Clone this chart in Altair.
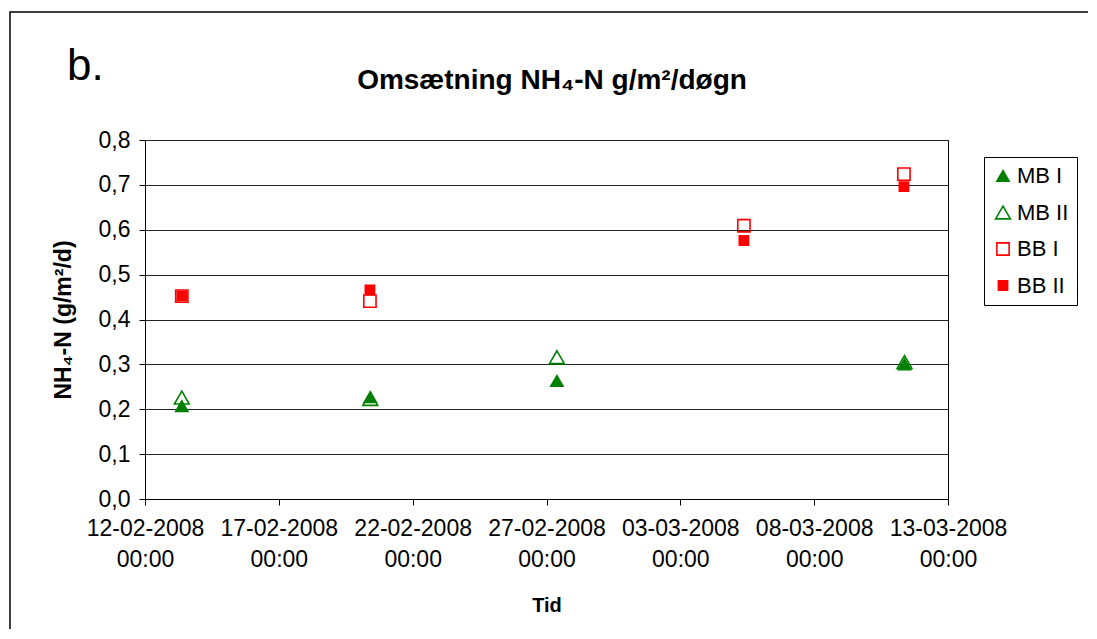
import altair as alt
import pandas as pd

# ---- data ----
series_order = ["MB I", "MB II", "BB I", "BB II"]
mb_dates = ["2008-02-13T09:00:00", "2008-02-20T10:00:00", "2008-02-27T09:20:00", "2008-03-11T09:00:00"]
bb_dates = ["2008-02-13T09:00:00", "2008-02-20T09:40:00", "2008-03-05T09:00:00", "2008-03-11T08:30:00"]
mb1 = [0.207, 0.227, 0.263, 0.300]
mb2 = [0.226, 0.223, 0.316, 0.305]
bb1 = [0.452, 0.441, 0.609, 0.724]
bb2 = [0.452, 0.466, 0.576, 0.696]
y_ticks = [0.0, 0.1, 0.2, 0.3, 0.4, 0.5, 0.6, 0.7, 0.8]
x_tick_days = [(2008, 2, 12), (2008, 2, 17), (2008, 2, 22), (2008, 2, 27),
               (2008, 3, 3), (2008, 3, 8), (2008, 3, 13)]
chart_title = "Omsætning NH\u2084-N g/m\u00b2/døgn"
y_title = "NH\u2084-N (g/m\u00b2/d)"
x_title = "Tid"
panel_label = "b."

rows = []
for name, dates, vals in [("MB II", mb_dates, mb2), ("MB I", mb_dates, mb1),
                          ("BB II", bb_dates, bb2), ("BB I", bb_dates, bb1)]:
    for d, v in zip(dates, vals):
        rows.append({"series": name, "date": d, "value": v})
df = pd.DataFrame(rows)

GREEN = "#008000"
RED = "#FF0000"

x_values = [alt.DateTime(year=y, month=m, date=d) for (y, m, d) in x_tick_days]
x_domain = [x_values[0], x_values[-1]]

leg = alt.Legend(title=None)

points = alt.Chart(df).mark_point(opacity=1, strokeWidth=1.6).encode(
    x=alt.X("date:T", scale=alt.Scale(domain=x_domain, nice=False),
            axis=alt.Axis(values=x_values, title=x_title,
                          labelExpr="[timeFormat(datum.value, '%d-%m-%Y'), timeFormat(datum.value, '%H:%M')]",
                          labelFlush=False, labelOverlap=False, labelBound=False,
                          labelBaseline="top", labelLineHeight=31, labelPadding=12,
                          tickSize=6, grid=False, titleFontSize=20,
                          titleY=106, titleBaseline="middle")),
    y=alt.Y("value:Q", scale=alt.Scale(domain=[0, 0.8], nice=False),
            axis=alt.Axis(values=y_ticks, title=y_title,
                          labelExpr="replace(format(datum.value, '.1f'), '.', ',')",
                          tickSize=6, labelPadding=9, titleFontSize=23,
                          titleX=-82, titleY=179.5, titleAngle=270,
                          titleBaseline="middle", titleAlign="center")),
    shape=alt.Shape("series:N", scale=alt.Scale(domain=series_order,
                    range=["triangle-up", "triangle-up", "square", "square"]), legend=leg),
    stroke=alt.Stroke("series:N", scale=alt.Scale(domain=series_order,
                      range=[GREEN, GREEN, RED, RED]), legend=leg),
    fill=alt.Fill("series:N", scale=alt.Scale(domain=series_order,
                  range=[GREEN, "transparent", "transparent", RED]), legend=leg),
    size=alt.Size("series:N", scale=alt.Scale(type="ordinal", domain=series_order,
                  range=[150, 220, 150, 85]), legend=leg),
)

one = alt.Data(values=[{"t": 1}])

border = alt.Chart(one).mark_rect(fill="transparent", stroke="black", strokeWidth=1.5).encode(
    x=alt.value(-135), y=alt.value(-128), x2=alt.value(1200), y2=alt.value(800))

title_mark = alt.Chart(one).mark_text(
    text=chart_title, font="Liberation Sans", fontSize=28, fontWeight="bold",
    align="center", baseline="alphabetic", color="black").encode(
    x=alt.value(407), y=alt.value(-51))

label_mark = alt.Chart(one).mark_text(
    text=panel_label, font="Liberation Sans", fontSize=44,
    align="left", baseline="alphabetic", color="black").encode(
    x=alt.value(-78), y=alt.value(-60))

chart = alt.layer(border, title_mark, label_mark, points).properties(
    width=803, height=359,
    autosize=alt.AutoSizeParams(type="none"),
    padding={"left": 137, "top": 132, "right": 140, "bottom": 130},
).configure(
    font="Liberation Sans"
).configure_view(
    stroke="black", strokeWidth=1
).configure_axis(
    labelFont="Liberation Sans", labelFontSize=23, labelColor="black",
    titleFont="Liberation Sans", titleFontWeight="bold", titleColor="black",
    domainColor="black", domainWidth=1, tickColor="black", tickWidth=1,
    gridColor="#222222", gridWidth=1, gridOpacity=1
).configure_legend(
    orient="none", legendX=839, legendY=17,
    strokeColor="black", fillColor="white", padding=8,
    rowPadding=14.5, labelFontSize=22, labelFont="Liberation Sans", labelColor="black",
    labelOffset=3, symbolStrokeWidth=1.6
)

chart.save("out.html", embed_options={"renderer": "svg", "actions": False})
